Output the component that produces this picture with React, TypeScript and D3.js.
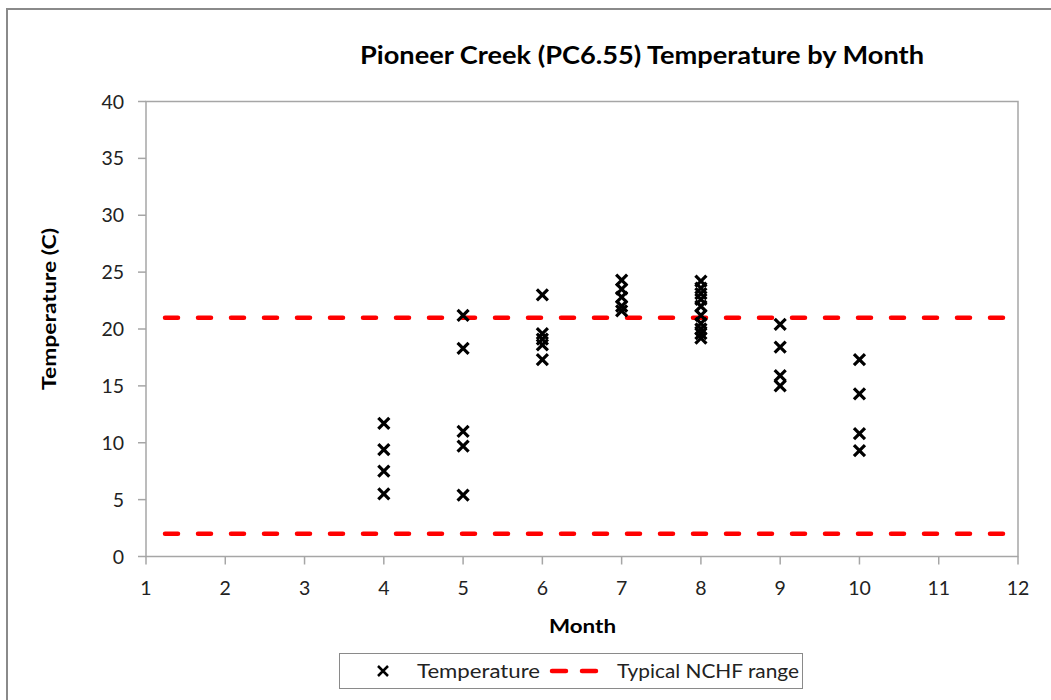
import React from "react";
import * as d3 from "d3";

const months4 = [11.7, 9.4, 7.5, 5.5];
const months5 = [21.2, 18.3, 11.0, 9.7, 5.4];
const months6 = [23.0, 19.6, 19.1, 18.6, 17.3];
const months7 = [24.3, 23.5, 22.8, 22.0, 21.6];
const months8 = [24.2, 23.6, 23.1, 22.6, 22.0, 21.2, 20.5, 20.0, 19.6, 19.2];
const months9 = [20.4, 18.4, 15.9, 15.0];
const months10 = [17.3, 14.3, 10.8, 9.3];

const monthGroups: [number, number[]][] = [
  [4, months4],
  [5, months5],
  [6, months6],
  [7, months7],
  [8, months8],
  [9, months9],
  [10, months10],
];

const rangeValues = [21, 2];
const xTicks = [1, 2, 3, 4, 5, 6, 7, 8, 9, 10, 11, 12];
const yTicks = [0, 5, 10, 15, 20, 25, 30, 35, 40];

const title = "Pioneer Creek (PC6.55) Temperature by Month";
const xTitle = "Month";
const yTitle = "Temperature (C)";
const seriesName = "Temperature";
const rangeName = "Typical NCHF range";

const W = 1051;
const H = 700;
const left = 146;
const right = 1018;
const top = 101.5;
const bottom = 556.5;
const FONT = "Lato, 'Open Sans', sans-serif";

export default function App() {
  const x = d3.scaleLinear().domain([1, 12]).range([left, right]);
  const y = d3.scaleLinear().domain([0, 40]).range([bottom, top]);
  const points = monthGroups.flatMap(([m, vals]) => vals.map((v) => ({ m, v })));
  const line = d3.line<[number, number]>().x((d) => d[0]).y((d) => d[1]);
  const cross = (cx: number, cy: number, s: number) =>
    `M${cx - s},${cy - s}L${cx + s},${cy + s}M${cx - s},${cy + s}L${cx + s},${cy - s}`;

  return (
    <svg
      width={W}
      height={H}
      style={{ position: "absolute", left: 0, top: 0, background: "#fff" }}
      fontFamily={FONT}
    >
      <rect x={7} y={9} width={1100} height={800} fill="#fff" stroke="#8a8a8a" strokeWidth={2} />
      <text
        x={360}
        y={64}
        fontSize={24}
        fontWeight="bold"
        fill="#000"
        textLength={564}
        lengthAdjust="spacingAndGlyphs"
      >
        {title}
      </text>
      <rect
        x={left}
        y={top}
        width={right - left}
        height={bottom - top}
        fill="none"
        stroke="#a6a6a6"
        strokeWidth={1.5}
      />
      {yTicks.map((t) => (
        <g key={"y" + t}>
          <line x1={left - 8} x2={left} y1={y(t)} y2={y(t)} stroke="#a6a6a6" strokeWidth={1.5} />
          <text x={124} y={y(t) + 7} textAnchor="end" fontSize={19.5} fill="#222">
            {t}
          </text>
        </g>
      ))}
      {xTicks.map((t) => (
        <g key={"x" + t}>
          <line x1={x(t)} x2={x(t)} y1={bottom} y2={bottom + 8} stroke="#a6a6a6" strokeWidth={1.5} />
          <text x={x(t)} y={595} textAnchor="middle" fontSize={19.5} fill="#222">
            {t}
          </text>
        </g>
      ))}
      <text
        x={549}
        y={633}
        fontSize={19.5}
        fontWeight="bold"
        fill="#000"
        textLength={67}
        lengthAdjust="spacingAndGlyphs"
      >
        {xTitle}
      </text>
      <text
        transform={`translate(56, 390) rotate(-90)`}
        fontSize={19.5}
        fontWeight="bold"
        fill="#000"
        textLength={162}
        lengthAdjust="spacingAndGlyphs"
      >
        {yTitle}
      </text>
      {rangeValues.map((v) => (
        <path
          key={"r" + v}
          d={line([
            [x(1), y(v)],
            [x(12), y(v)],
          ]) || ""}
          stroke="#ff0000"
          strokeWidth={4.5}
          strokeDasharray="13 20"
          strokeDashoffset={14}
          strokeLinecap="round"
          fill="none"
        />
      ))}
      {points.map((p, i) => (
        <path key={"p" + i} d={cross(x(p.m), y(p.v), 5.5)} stroke="#000" strokeWidth={3.2} fill="none" />
      ))}
      <rect x={339.5} y={653.5} width={463} height={35} fill="#fff" stroke="#8a8a8a" strokeWidth={1} />
      <path d={cross(383, 671, 5)} stroke="#000" strokeWidth={2.5} fill="none" />
      <text
        x={417}
        y={678}
        fontSize={19.5}
        fill="#222"
        textLength={123}
        lengthAdjust="spacingAndGlyphs"
      >
        {seriesName}
      </text>
      <path
        d={line([
          [552, 671],
          [596, 671],
        ]) || ""}
        stroke="#ff0000"
        strokeWidth={4.5}
        strokeDasharray="14 16"
        strokeLinecap="round"
        fill="none"
      />
      <text
        x={617}
        y={678}
        fontSize={19.5}
        fill="#222"
        textLength={182}
        lengthAdjust="spacingAndGlyphs"
      >
        {rangeName}
      </text>
    </svg>
  );
}
